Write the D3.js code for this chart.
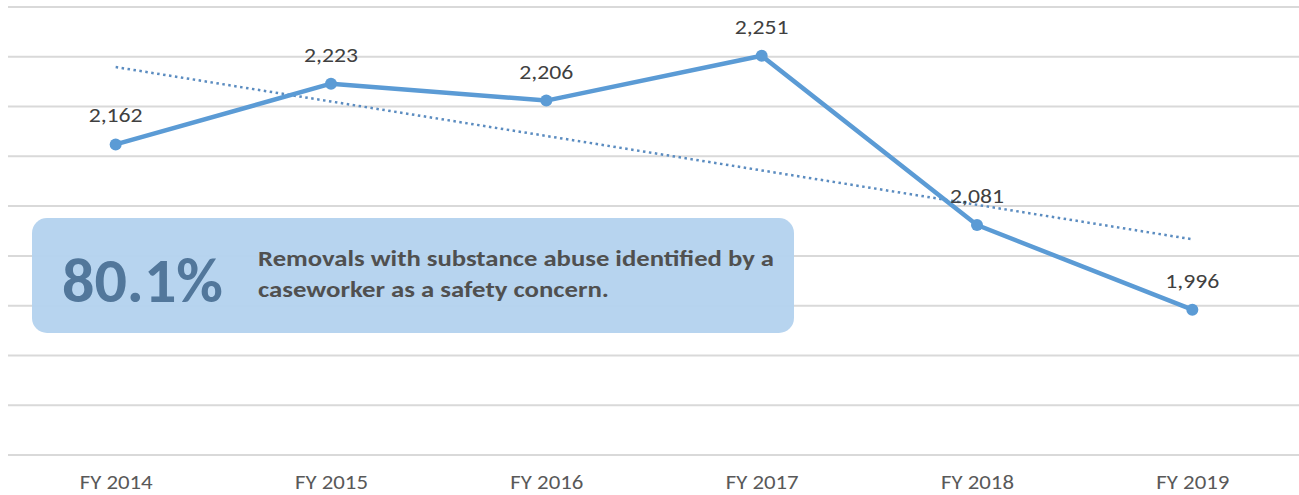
<!DOCTYPE html>
<html>
<head>
<meta charset="utf-8">
<script src="https://cdn.jsdelivr.net/npm/d3@7"></script>
<style>
  html, body { margin: 0; padding: 0; background: #ffffff; }
  svg { display: block; }
</style>
</head>
<body>
<svg id="chart" width="1299" height="495"></svg>
<script>
const categories = ["FY 2014", "FY 2015", "FY 2016", "FY 2017", "FY 2018", "FY 2019"];
const values = [2162, 2223, 2206, 2251, 2081, 1996];
const gridTicks = [1850, 1900, 1950, 2000, 2050, 2100, 2150, 2200, 2250, 2300];
const calloutValue = "80.1%";
const calloutLines = ["Removals with substance abuse identified by a", "caseworker as a safety concern."];

const W = 1299, H = 495;
const svg = d3.select("#chart");
const font = "Carlito, Lato, 'Open Sans', 'Liberation Sans', sans-serif";

const x = d3.scalePoint().domain(categories).range([8, 1300]).padding(0.5);
const y = d3.scaleLinear().domain([1850, 2300]).range([455, 7]);

// gridlines
svg.append("g").selectAll("line").data(gridTicks).join("line")
  .attr("x1", 8).attr("x2", W)
  .attr("y1", d => y(d)).attr("y2", d => y(d))
  .attr("stroke", "#d9d9d9").attr("stroke-width", 2);

// x axis labels
const xAxis = d3.axisBottom(x).tickSize(0).tickPadding(0);
const gx = svg.append("g").attr("transform", "translate(0,489)").call(xAxis);
gx.select(".domain").remove();
gx.selectAll("text")
  .attr("font-family", font).attr("font-size", 20).attr("fill", "#595959")
  .attr("y", 0).attr("dy", 0)
  .attr("textLength", 73).attr("lengthAdjust", "spacingAndGlyphs");

// linear trendline (least squares over category index)
const n = values.length;
const idx = d3.range(n);
const mx = d3.mean(idx), my = d3.mean(values);
const slope = d3.sum(idx, i => (i - mx) * (values[i] - my)) / d3.sum(idx, i => (i - mx) * (i - mx));
const trend = idx.map(i => my + slope * (i - mx));
svg.append("path")
  .datum(trend)
  .attr("d", d3.line().x((d, i) => x(categories[i])).y(d => y(d)))
  .attr("fill", "none").attr("stroke", "#5b8cc0").attr("stroke-width", 2.5)
  .attr("stroke-dasharray", "2.5,3.5");

// main line
svg.append("path")
  .datum(values)
  .attr("d", d3.line().x((d, i) => x(categories[i])).y(d => y(d)))
  .attr("fill", "none").attr("stroke", "#5b9bd5").attr("stroke-width", 4.5)
  .attr("stroke-linejoin", "round");

svg.append("g").selectAll("circle").data(values).join("circle")
  .attr("cx", (d, i) => x(categories[i])).attr("cy", d => y(d)).attr("r", 6)
  .attr("fill", "#5b9bd5");

// data labels
svg.append("g").selectAll("text").data(values).join("text")
  .attr("x", (d, i) => x(categories[i])).attr("y", d => y(d) - 22)
  .attr("text-anchor", "middle")
  .attr("font-family", font).attr("font-size", 20.5).attr("fill", "#404040")
  .attr("textLength", 54).attr("lengthAdjust", "spacingAndGlyphs")
  .text(d => d3.format(",")(d));

// callout box
const box = svg.append("g");
box.append("rect")
  .attr("x", 32).attr("y", 218).attr("width", 762).attr("height", 115)
  .attr("rx", 15).attr("ry", 15)
  .attr("fill", "#b5d3ee").attr("fill-opacity", 0.97);
box.append("text")
  .attr("x", 62).attr("y", 302)
  .attr("font-family", font).attr("font-size", 62).attr("font-weight", "bold")
  .attr("fill", "#52779b")
  .attr("textLength", 161).attr("lengthAdjust", "spacingAndGlyphs")
  .text(calloutValue);
box.selectAll("text.desc").data(calloutLines).join("text")
  .attr("class", "desc")
  .attr("x", 258).attr("y", (d, i) => 266 + i * 31)
  .attr("font-family", font).attr("font-size", 22.5).attr("font-weight", "bold")
  .attr("fill", "#505050")
  .attr("textLength", (d, i) => i === 0 ? 516 : 351)
  .attr("lengthAdjust", "spacingAndGlyphs")
  .text(d => d);
</script>
</body>
</html>
